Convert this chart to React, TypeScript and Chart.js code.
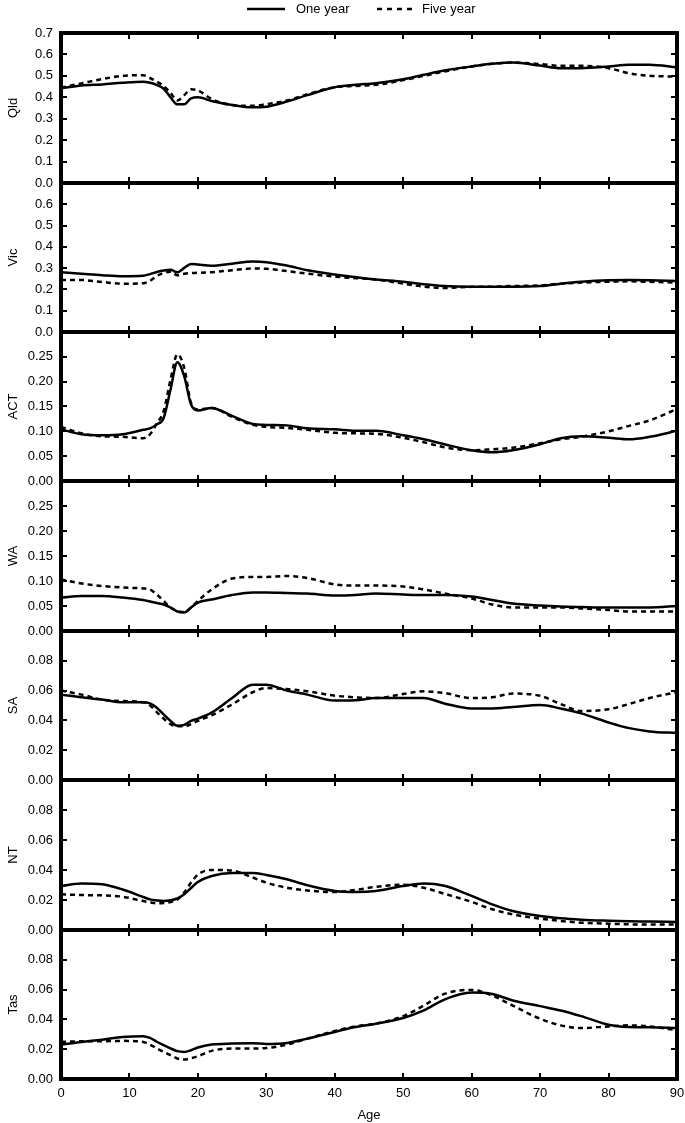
import React, { useEffect, useRef } from 'react';
import { Chart, registerables } from 'chart.js';
Chart.register(...registerables);

// ---------- DATA ----------
const ages = [0, 3, 6, 9, 12, 13, 14, 15, 16, 17, 18, 19, 20, 22, 25, 28, 30, 33, 36, 40, 43, 46, 50, 53, 56, 60, 63, 66, 70, 73, 76, 80, 83, 86, 90];

const qldOneYear = [0.442, 0.455, 0.46, 0.468, 0.473, 0.468, 0.458, 0.44, 0.40, 0.367, 0.367, 0.395, 0.40, 0.383, 0.364, 0.353, 0.356, 0.38, 0.41, 0.447, 0.458, 0.466, 0.484, 0.505, 0.525, 0.544, 0.556, 0.562, 0.548, 0.536, 0.536, 0.544, 0.552, 0.552, 0.54];
const qldFiveYear = [0.445, 0.465, 0.485, 0.5, 0.503, 0.49, 0.473, 0.453, 0.42, 0.385, 0.41, 0.437, 0.432, 0.392, 0.364, 0.36, 0.368, 0.385, 0.414, 0.447, 0.453, 0.458, 0.48, 0.50, 0.52, 0.544, 0.556, 0.562, 0.555, 0.547, 0.547, 0.536, 0.512, 0.50, 0.497];

const vicOneYear = [0.281, 0.274, 0.267, 0.262, 0.264, 0.272, 0.282, 0.289, 0.292, 0.281, 0.301, 0.32, 0.317, 0.311, 0.321, 0.331, 0.328, 0.312, 0.29, 0.27, 0.258, 0.247, 0.236, 0.224, 0.216, 0.213, 0.213, 0.213, 0.216, 0.227, 0.236, 0.243, 0.244, 0.243, 0.24];
const vicFiveYear = [0.244, 0.244, 0.235, 0.227, 0.229, 0.24, 0.263, 0.278, 0.283, 0.267, 0.274, 0.277, 0.278, 0.281, 0.29, 0.298, 0.297, 0.286, 0.274, 0.26, 0.253, 0.247, 0.227, 0.213, 0.207, 0.212, 0.213, 0.216, 0.219, 0.227, 0.232, 0.236, 0.238, 0.236, 0.232];

const actOneYear = [0.104, 0.094, 0.092, 0.094, 0.103, 0.106, 0.114, 0.127, 0.184, 0.239, 0.211, 0.154, 0.142, 0.147, 0.131, 0.115, 0.113, 0.112, 0.106, 0.104, 0.101, 0.101, 0.092, 0.084, 0.074, 0.062, 0.058, 0.062, 0.074, 0.086, 0.09, 0.087, 0.084, 0.089, 0.101];
const actFiveYear = [0.109, 0.096, 0.09, 0.089, 0.086, 0.094, 0.116, 0.141, 0.204, 0.255, 0.228, 0.157, 0.144, 0.147, 0.129, 0.113, 0.109, 0.107, 0.103, 0.097, 0.096, 0.095, 0.087, 0.078, 0.068, 0.062, 0.064, 0.067, 0.076, 0.084, 0.089, 0.1, 0.111, 0.122, 0.145];

const waOneYear = [0.067, 0.07, 0.07, 0.067, 0.062, 0.059, 0.056, 0.053, 0.047, 0.039, 0.037, 0.047, 0.057, 0.063, 0.072, 0.077, 0.077, 0.076, 0.075, 0.071, 0.072, 0.075, 0.073, 0.072, 0.072, 0.069, 0.062, 0.055, 0.051, 0.049, 0.048, 0.047, 0.047, 0.047, 0.05];
const waFiveYear = [0.103, 0.095, 0.09, 0.087, 0.085, 0.083, 0.073, 0.06, 0.047, 0.04, 0.038, 0.047, 0.06, 0.083, 0.105, 0.108, 0.108, 0.11, 0.106, 0.093, 0.091, 0.091, 0.089, 0.083, 0.075, 0.065, 0.053, 0.047, 0.047, 0.047, 0.045, 0.042, 0.039, 0.039, 0.039];

const saOneYear = [0.0573, 0.0555, 0.054, 0.0522, 0.0522, 0.0514, 0.0485, 0.044, 0.0397, 0.0364, 0.037, 0.0397, 0.0412, 0.0452, 0.055, 0.064, 0.064, 0.06, 0.0573, 0.0533, 0.0535, 0.055, 0.055, 0.055, 0.0514, 0.048, 0.048, 0.049, 0.0503, 0.048, 0.0447, 0.0386, 0.0348, 0.0326, 0.0315];
const saFiveYear = [0.06, 0.0573, 0.054, 0.053, 0.0522, 0.05, 0.0456, 0.0412, 0.0375, 0.036, 0.036, 0.0375, 0.0397, 0.0434, 0.0507, 0.0589, 0.0617, 0.061, 0.0595, 0.0566, 0.0555, 0.055, 0.0577, 0.0595, 0.0584, 0.055, 0.0555, 0.058, 0.0565, 0.051, 0.0463, 0.0475, 0.051, 0.055, 0.059];

const ntOneYear = [0.0293, 0.031, 0.0305, 0.027, 0.022, 0.0204, 0.0197, 0.0193, 0.0198, 0.021, 0.0238, 0.028, 0.032, 0.036, 0.038, 0.038, 0.0367, 0.0338, 0.0298, 0.026, 0.0253, 0.026, 0.0293, 0.031, 0.0295, 0.0227, 0.0171, 0.0127, 0.0093, 0.0078, 0.0069, 0.0062, 0.0058, 0.0056, 0.0053];
const ntFiveYear = [0.0238, 0.0233, 0.0231, 0.0222, 0.0193, 0.0185, 0.0178, 0.018, 0.0187, 0.0204, 0.025, 0.0316, 0.037, 0.04, 0.0396, 0.035, 0.0316, 0.0282, 0.0264, 0.0253, 0.0267, 0.0287, 0.0302, 0.0282, 0.0242, 0.0187, 0.0138, 0.0104, 0.0076, 0.006, 0.0049, 0.0042, 0.0038, 0.0036, 0.0036];

const tasOneYear = [0.0231, 0.0249, 0.0264, 0.0282, 0.0287, 0.0276, 0.025, 0.0227, 0.0205, 0.0187, 0.0182, 0.0193, 0.0211, 0.0231, 0.0238, 0.024, 0.0235, 0.0242, 0.0271, 0.0316, 0.0349, 0.0371, 0.0409, 0.046, 0.0533, 0.058, 0.0571, 0.0527, 0.0489, 0.046, 0.0422, 0.0364, 0.0349, 0.0347, 0.0342];
const tasFiveYear = [0.0249, 0.0253, 0.0253, 0.0256, 0.0249, 0.0231, 0.0205, 0.0182, 0.016, 0.0138, 0.0131, 0.014, 0.0153, 0.0189, 0.0204, 0.0204, 0.0208, 0.0231, 0.0271, 0.0322, 0.0353, 0.0371, 0.0422, 0.0493, 0.0571, 0.0598, 0.056, 0.0493, 0.0404, 0.036, 0.0342, 0.0353, 0.036, 0.0353, 0.0327];

const stateLabels = ['Qld', 'Vic', 'ACT', 'WA', 'SA', 'NT', 'Tas'];
const oneYearSeries = [qldOneYear, vicOneYear, actOneYear, waOneYear, saOneYear, ntOneYear, tasOneYear];
const fiveYearSeries = [qldFiveYear, vicFiveYear, actFiveYear, waFiveYear, saFiveYear, ntFiveYear, tasFiveYear];
const yMaxes = [0.7, 0.7, 0.3, 0.3, 0.1, 0.1, 0.1];
const ySteps = [0.1, 0.1, 0.05, 0.05, 0.02, 0.02, 0.02];
const yDecimals = [1, 1, 2, 2, 2, 2, 2];
const xTickValues = [0, 10, 20, 30, 40, 50, 60, 70, 80, 90];
const legendLabels = ['One year', 'Five year'];
const xAxisTitle = 'Age';

// ---------- LAYOUT ----------
const PAGE_W = 685;
const PLOT_LEFT = 61;
const PLOT_RIGHT = 677;
const panelTops = [33, 183, 332, 481, 631, 780, 930, 1079];
const FONT = '"Liberation Sans", Arial, Helvetica, sans-serif';
const FONT_SIZE = 13;
const TICK_LEN = 6;

Chart.defaults.font.family = FONT;
Chart.defaults.font.size = FONT_SIZE;
Chart.defaults.color = '#000';

function makeFramePlugin(idx: number) {
  return {
    id: 'frame' + idx,
    afterDatasetsDraw(chart: any) {
      const { ctx, chartArea } = chart;
      const xs = chart.scales.x;
      const ys = chart.scales.y;
      const { left, right, top, bottom } = chartArea;
      ctx.save();
      ctx.strokeStyle = '#000';
      ctx.lineWidth = 2;
      ctx.beginPath();
      xTickValues.forEach((v) => {
        const px = Math.round(xs.getPixelForValue(v));
        ctx.moveTo(px, bottom);
        ctx.lineTo(px, bottom - TICK_LEN);
        ctx.moveTo(px, top);
        ctx.lineTo(px, top + TICK_LEN);
      });
      const n = Math.round(yMaxes[idx] / ySteps[idx]);
      for (let k = 0; k <= n; k++) {
        const py = Math.round(ys.getPixelForValue(k * ySteps[idx]));
        ctx.moveTo(left, py);
        ctx.lineTo(left + TICK_LEN, py);
        ctx.moveTo(right, py);
        ctx.lineTo(right - TICK_LEN, py);
      }
      ctx.stroke();
      ctx.lineWidth = 4;
      ctx.strokeRect(left, top, right - left, bottom - top);
      ctx.restore();

      if (idx === 0) {
        ctx.save();
        const ly = 9;
        ctx.strokeStyle = '#000';
        ctx.lineWidth = 2.5;
        ctx.beginPath();
        ctx.moveTo(247, ly);
        ctx.lineTo(285, ly);
        ctx.stroke();
        ctx.setLineDash([5, 5]);
        ctx.beginPath();
        ctx.moveTo(377, ly);
        ctx.lineTo(416, ly);
        ctx.stroke();
        ctx.setLineDash([]);
        ctx.fillStyle = '#000';
        ctx.font = `${FONT_SIZE}px ${FONT}`;
        ctx.textBaseline = 'middle';
        ctx.textAlign = 'left';
        ctx.fillText(legendLabels[0], 296, ly);
        ctx.fillText(legendLabels[1], 422, ly);
        ctx.restore();
      }
    },
  };
}

function toPoints(vals: number[]) {
  return ages.map((a, k) => ({ x: a, y: vals[k] }));
}

export default function App() {
  const refs = useRef<(HTMLCanvasElement | null)[]>([]);

  const geom = stateLabels.map((_, i) => {
    const isFirst = i === 0;
    const isLast = i === stateLabels.length - 1;
    const padTop = isFirst ? panelTops[0] : 12;
    const padBottom = isLast ? 0 : 12;
    const axisH = isLast ? 44 : 0;
    const top = panelTops[i] - padTop;
    const height = panelTops[i + 1] - panelTops[i] + padTop + padBottom + axisH;
    return { padTop, padBottom, axisH, top, height, isLast };
  });

  useEffect(() => {
    const charts: Chart[] = [];
    stateLabels.forEach((label, i) => {
      const canvas = refs.current[i];
      if (!canvas) return;
      const g = geom[i];
      const chart = new Chart(canvas, {
        type: 'line',
        data: {
          datasets: [
            {
              label: legendLabels[0],
              data: toPoints(oneYearSeries[i]),
              borderColor: '#000',
              borderWidth: 2.5,
              pointRadius: 0,
              cubicInterpolationMode: 'monotone',
              fill: false,
            },
            {
              label: legendLabels[1],
              data: toPoints(fiveYearSeries[i]),
              borderColor: '#000',
              borderWidth: 2.5,
              borderDash: [5, 4],
              pointRadius: 0,
              cubicInterpolationMode: 'monotone',
              fill: false,
            },
          ],
        },
        options: {
          responsive: false,
          animation: false,
          devicePixelRatio: 1,
          layout: { padding: { top: g.padTop, bottom: g.padBottom, left: 0, right: PAGE_W - PLOT_RIGHT } },
          plugins: { legend: { display: false }, tooltip: { enabled: false } },
          scales: {
            x: {
              type: 'linear',
              min: 0,
              max: 90,
              display: g.isLast,
              grid: { display: false, drawTicks: false },
              border: { display: false },
              ticks: { stepSize: 10, padding: 7, color: '#000', font: { size: FONT_SIZE } },
              title: { display: true, text: xAxisTitle, color: '#000', font: { size: FONT_SIZE }, padding: { top: 6, bottom: 0 } },
              afterFit: (s: any) => { s.height = g.axisH; s.paddingLeft = 0; s.paddingRight = 0; },
            },
            y: {
              min: 0,
              max: yMaxes[i],
              grid: { display: false, drawTicks: false },
              border: { display: false },
              ticks: {
                stepSize: ySteps[i],
                padding: 8,
                color: '#000',
                font: { size: FONT_SIZE },
                callback: (v: any) => {
                  const n = Number(v);
                  if (i > 0 && Math.abs(n - yMaxes[i]) < 1e-9) return '';
                  return n.toFixed(yDecimals[i]);
                },
              },
              title: { display: true, text: label, color: '#000', font: { size: FONT_SIZE }, padding: { top: 6, bottom: 0 } },
              afterFit: (s: any) => { s.width = PLOT_LEFT; s.paddingTop = 0; s.paddingBottom = 0; },
            },
          },
        } as any,
        plugins: [makeFramePlugin(i)],
      });
      charts.push(chart);
    });
    return () => charts.forEach((c) => c.destroy());
  }, []);

  return (
    <div style={{ position: 'absolute', left: 0, top: 0, width: PAGE_W, height: 1123, background: '#fff' }}>
      {geom.map((g, i) => (
        <canvas
          key={i}
          ref={(el) => { refs.current[i] = el; }}
          width={PAGE_W}
          height={g.height}
          style={{ position: 'absolute', left: 0, top: g.top, width: PAGE_W, height: g.height }}
        />
      ))}
    </div>
  );
}
